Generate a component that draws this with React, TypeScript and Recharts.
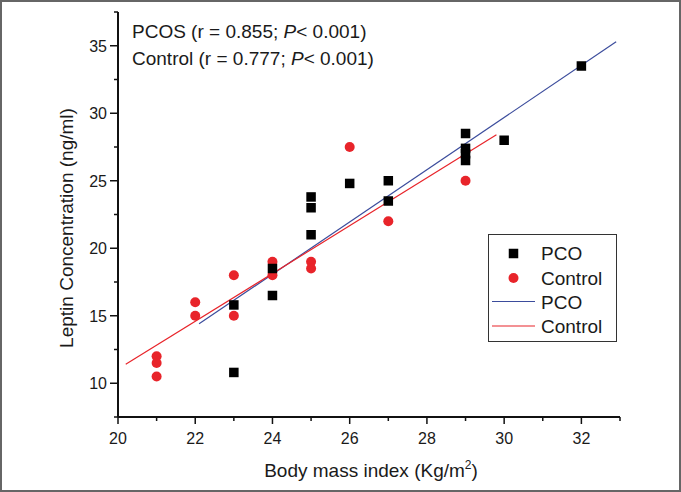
import React from 'react';
import { ComposedChart, Scatter, Line, XAxis, YAxis } from 'recharts';

// BMI (x) vs leptin (y)
const pcoBmi = [23, 23, 24, 24, 25, 25, 25, 26, 27, 27, 29, 29, 29, 29, 30, 32];
const pcoLeptin = [15.8, 10.8, 18.5, 16.5, 23.8, 23.0, 21.0, 24.8, 25.0, 23.5, 28.5, 27.4, 27.0, 26.5, 28.0, 33.5];

const controlBmi = [21, 21, 21, 22, 22, 23, 23, 24, 24, 25, 25, 26, 27, 29];
const controlLeptin = [12.0, 11.5, 10.5, 16.0, 15.0, 18.0, 15.0, 19.0, 18.0, 19.0, 18.5, 27.5, 22.0, 25.0];

// fitted lines, endpoints as drawn
const pcoFitBmi = [22.1, 32.9];
const pcoFitLeptin = [14.4, 35.3];
const controlFitBmi = [20.2, 29.8];
const controlFitLeptin = [11.4, 28.4];

const xTicks = [20, 21, 22, 23, 24, 25, 26, 27, 28, 29, 30, 31, 32, 33];
const yTicks = [7.5, 10, 12.5, 15, 17.5, 20, 22.5, 25, 27.5, 30, 32.5, 35, 37.5];

const zip = (xs: number[], ys: number[]) => xs.map((x, i) => ({ x, y: ys[i] }));

const pcoData = zip(pcoBmi, pcoLeptin);
const controlData = zip(controlBmi, controlLeptin);
const pcoFit = zip(pcoFitBmi, pcoFitLeptin);
const controlFit = zip(controlFitBmi, controlFitLeptin);

const FONT = '"Liberation Sans", Arial, sans-serif';
const RED = '#e8242a';
const BLUE = '#3b4c9c';
const TEXT = '#1a1a1a';

const XTick = (props: any) => {
  const { x, y, payload } = props;
  const major = payload.value % 2 === 0;
  return (
    <g>
      <line x1={x} x2={x} y1={y} y2={y + (major ? 7 : 4)} stroke="#111" strokeWidth={1.5} />
      {major && (
        <text x={x} y={y + 27} textAnchor="middle" fontSize={16} fill={TEXT} fontFamily={FONT}>
          {payload.value}
        </text>
      )}
    </g>
  );
};

const YTick = (props: any) => {
  const { x, y, payload } = props;
  const major = payload.value % 5 === 0;
  return (
    <g>
      <line x1={x - (major ? 8 : 4)} x2={x} y1={y} y2={y} stroke="#111" strokeWidth={1.5} />
      {major && (
        <text x={x - 11} y={y + 6} textAnchor="end" fontSize={16} fill={TEXT} fontFamily={FONT}>
          {payload.value}
        </text>
      )}
    </g>
  );
};

const SquareDot = (props: any) => {
  const { cx, cy } = props;
  return <rect x={cx - 4.75} y={cy - 4.75} width={9.5} height={9.5} fill="#000" />;
};

const CircleDot = (props: any) => {
  const { cx, cy } = props;
  return <circle cx={cx} cy={cy} r={5} fill={RED} />;
};

const App = () => {
  return (
    <div style={{ position: 'absolute', left: 0, top: 0, width: 681, height: 492, background: '#fff', fontFamily: FONT }}>
      <ComposedChart width={681} height={492} margin={{ top: 12, right: 61, bottom: 45, left: 78 }}>
        <XAxis
          type="number"
          dataKey="x"
          domain={[20, 33]}
          ticks={xTicks}
          interval={0}
          height={30}
          tickSize={0}
          tickMargin={0}
          tick={<XTick />}
          axisLine={{ stroke: '#111', strokeWidth: 2 }}
          allowDataOverflow
        />
        <YAxis
          type="number"
          dataKey="y"
          domain={[7.5, 37.5]}
          ticks={yTicks}
          interval={0}
          width={40}
          tickSize={0}
          tickMargin={0}
          tick={<YTick />}
          axisLine={{ stroke: '#111', strokeWidth: 2 }}
          allowDataOverflow
        />
        <Line data={pcoFit} dataKey="y" stroke={BLUE} strokeWidth={1.2} dot={false} isAnimationActive={false} />
        <Line data={controlFit} dataKey="y" stroke={RED} strokeWidth={1.2} dot={false} isAnimationActive={false} />
        <Scatter data={controlData} shape={<CircleDot />} isAnimationActive={false} />
        <Scatter data={pcoData} shape={<SquareDot />} isAnimationActive={false} />
      </ComposedChart>

      <svg width={681} height={492} style={{ position: 'absolute', left: 0, top: 0, pointerEvents: 'none' }}>
        <rect x={1} y={1} width={679} height={490} fill="none" stroke="#666" strokeWidth={2} />

        <text x={132} y={38} fontSize={19} fill={TEXT} fontFamily={FONT}>
          PCOS (r = 0.855; <tspan fontStyle="italic">P</tspan>&lt; 0.001)
        </text>
        <text x={132} y={65} fontSize={19} fill={TEXT} fontFamily={FONT}>
          Control (r = 0.777; <tspan fontStyle="italic">P</tspan>&lt; 0.001)
        </text>

        <text x={371} y={477} textAnchor="middle" fontSize={19} fill={TEXT} fontFamily={FONT}>
          Body mass index (Kg/m<tspan fontSize={12} dy={-8}>2</tspan>
          <tspan dy={8}>)</tspan>
        </text>
        <text
          x={72.5}
          y={228}
          textAnchor="middle"
          fontSize={19}
          fill={TEXT}
          fontFamily={FONT}
          transform="rotate(-90, 72.5, 228)"
        >
          Leptin Concentration (ng/ml)
        </text>

        <rect x={488.5} y={234.5} width={128} height={107} fill="#fff" stroke="#333" strokeWidth={1} />
        <rect x={508.75} y={248.75} width={9.5} height={9.5} fill="#000" />
        <text x={541} y={260} fontSize={19} fill={TEXT} fontFamily={FONT}>PCO</text>
        <circle cx={513.5} cy={278} r={5} fill={RED} />
        <text x={541} y={284.5} fontSize={19} fill={TEXT} fontFamily={FONT}>Control</text>
        <line x1={492} x2={535} y1={301.5} y2={301.5} stroke={BLUE} strokeWidth={1.2} />
        <text x={541} y={308.5} fontSize={19} fill={TEXT} fontFamily={FONT}>PCO</text>
        <line x1={492} x2={535} y1={326} y2={326} stroke={RED} strokeWidth={1.2} />
        <text x={541} y={333} fontSize={19} fill={TEXT} fontFamily={FONT}>Control</text>
      </svg>
    </div>
  );
};

export default App;
